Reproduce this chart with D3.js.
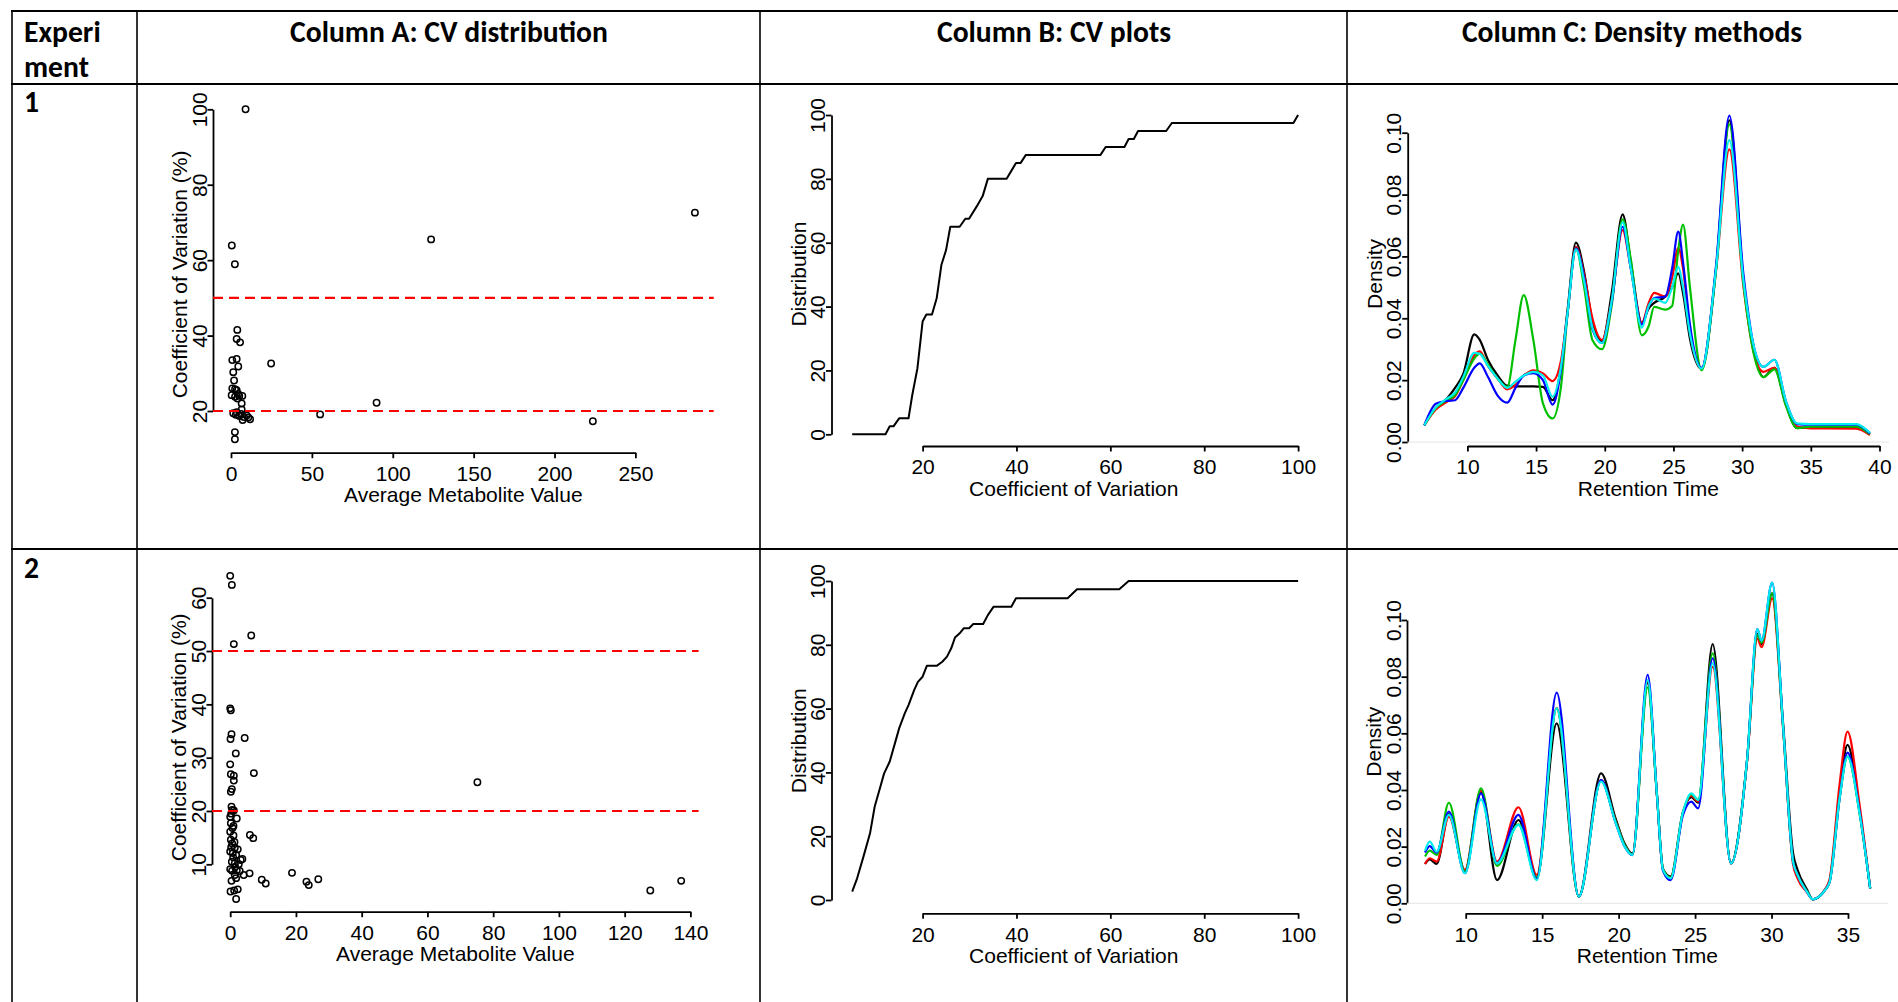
<!DOCTYPE html>
<html>
<head>
<meta charset="utf-8">
<script src="https://cdn.jsdelivr.net/npm/d3@7"></script>
<style>
  body { margin: 0; background: #fff; }
  svg { display: block; }
</style>
</head>
<body>
<div id="chart"></div>
<script>
// table text
const headers = ['Column A: CV distribution', 'Column B: CV plots', 'Column C: Density methods'];
const rowHeader = ['Experi', 'ment'];
const experiments = ['1', '2'];

// column A: average metabolite value vs CV (%)
const a1Mean = [9.0, 286.8, 123.7, 0.5, 2.4, 3.9, 3.5, 5.6, 0.8, 3.5, 24.8, 4.5, 1.4, 1.9, 0.8, 2.5, 3.5, 0.4, 2.5, 5.1,
    7.0, 4.0, 6.6, 6.6, 1.4, 3.5, 5.1, 7.2, 8.0, 10.7, 11.8, 9.7, 2.4, 2.4, 55.1, 90.0, 223.7, 3.0, 6.2, 4.5];
const a1Cv = [100, 72.6, 65.5, 63.9, 58.9, 41.5, 39.1, 38.2, 33.5, 33.8, 32.6, 31.8, 30.3, 28.1, 26.0, 25.8, 25.5, 24.2, 23.8, 24.0,
    24.0, 23.3, 22.0, 20.4, 19.4, 19.7, 18.7, 17.6, 18.4, 18.3, 17.8, 18.8, 14.4, 12.5, 19.1, 22.2, 17.3, 19.0, 19.2, 24.5];
const a2Mean = [0, 0.5, 1.1, 6.4, 0, 0.2, 0.4, 0.1, 4.4, 1.7, 0, 7.2, 0.2, 1.1, 1.1, 0.5, 0.2, 0.4, 0.6, 1.1,
    0, 2.0, 0.2, 1.0, 0, 1.0, 6.0, 7.0, 0.2, 0.6, 1.4, 2.3, 0, 0.8, 1.8, 3.2, 3.7, 0.5, 1.4, 0,
    0.6, 2.0, 2.9, 4.1, 5.9, 1.4, 0.4, 1.8, 18.8, 9.6, 10.8, 23.2, 23.9, 26.8, 0.1, 1.2, 2.3, 1.8, 75.2, 127.8,
    137.2, 0.3, 0.7, 1.5, 0.9, 2.6, 0.3, 1.3];
const a2Cv = [64.1, 62.4, 51.3, 52.9, 39.25, 38.9, 34.4, 33.5, 33.7, 30.8, 28.75, 27.1, 26.9, 26.6, 25.7, 24.1, 23.6, 20.8, 20.2, 20.1,
    18.9, 18.6, 17.7, 17.2, 16.1, 15.4, 15.5, 14.9, 14.6, 13.9, 13.1, 12.8, 12.4, 12.1, 11.75, 10.8, 11.0, 10.5, 10.2, 9.1,
    8.8, 8.9, 8.75, 8.0, 8.3, 8.0, 6.9, 7.4, 8.4, 7.1, 6.4, 6.75, 6.1, 7.2, 4.9, 5.1, 5.3, 3.5, 25.4, 5.1,
    6.9, 19.5, 16.8, 9.5, 11.3, 10.0, 13.2, 14.2];
const cvCutoffs = [20, 50];

// column B: cumulative distribution of CV
const b1Cv = [5.0, 12.1, 13.0, 13.8, 15.0, 17.0, 17.8, 18.9, 20.0, 20.8, 22.0, 23.0, 24.0, 25.0, 25.9, 27.9, 29.1, 29.9,
    31.5, 32.8, 33.9, 37.9, 38.9, 39.9, 40.9, 42.0, 57.9, 59.0, 63.0, 63.9, 65.0, 65.9, 71.9, 73.1, 99.0, 100];
const b1Dist = [0, 0, 2.5, 2.5, 5, 5, 12.3, 20.7, 35.3, 37.5, 37.5, 42.6, 53.0, 57.7, 65, 65, 67.5, 67.5,
    71.3, 74.6, 80, 80, 82.5, 85, 85, 87.5, 87.5, 90, 90, 92.5, 92.5, 95, 95, 97.5, 97.5, 100];
const b2Cv = [5.0, 6.05, 7.4, 8.8, 9.8, 11.0, 11.8, 13.0, 14.1, 15.0, 16.2, 17.0, 18.2, 19.0, 20.0, 20.9, 23.0, 24.2,
    25.2, 26.1, 26.9, 27.9, 28.8, 29.9, 30.8, 32.9, 33.9, 35.1, 38.9, 39.9, 50.9, 52.9, 61.9, 63.9, 100];
const b2Dist = [2.6, 6.8, 13.6, 20.9, 29.3, 35.5, 39.7, 43.4, 49.1, 53.8, 58.5, 61.1, 65.8, 68.4, 70.0, 73.4, 73.4, 74.7,
    76.3, 78.9, 82.3, 83.6, 85.2, 85.2, 86.5, 86.5, 89.3, 91.9, 91.9, 94.6, 94.6, 97.4, 97.4, 100, 100];

// column C: density of retention time, five methods
const c1Time = [6.86, 7.7, 8.5, 9.1, 9.7, 10.5, 10.9, 11.5, 12.2, 12.9, 13.5, 14.1, 14.8, 15.5, 16.2, 16.8, 17.3, 17.9,
    18.5, 19.1, 19.8, 20.5, 21.3, 21.9, 22.7, 23.2, 23.6, 24.4, 24.9, 25.35, 25.7, 26.2, 27.05, 28.1, 29.07, 30.1,
    30.9, 31.55, 32.35, 33.2, 34.0, 35.0, 38.3, 39.3];
const c1Black = [.0054, .0110, .0140, .0175, .0220, .0348, .0330, .0265, .0215, .0182, .0180, .0180, .0180, .0178, .0135, .0240, .0430, .0645,
    .0550, .0388, .0325, .0480, .0736, .0580, .0385, .0432, .0450, .0470, .0500, .0545, .0480, .0334, .0237, .0560, .1040, .0520,
    .0285, .0210, .0240, .0120, .0045, .0048, .0049, .0025];
const c1Red = [.0054, .0105, .0130, .0148, .0200, .0280, .0293, .0245, .0205, .0170, .0185, .0215, .0232, .0222, .0197, .0260, .0420, .0631,
    .0540, .0400, .0330, .0455, .0685, .0560, .0385, .0450, .0482, .0470, .0530, .0628, .0560, .0360, .0237, .0555, .0946, .0500,
    .0280, .0227, .0240, .0120, .0050, .0044, .0043, .0022];
const c1Green = [.0054, .0110, .0135, .0152, .0200, .0270, .0286, .0250, .0205, .0178, .0330, .0475, .0330, .0125, .0076, .0175, .0420, .0626,
    .0500, .0330, .0300, .0440, .0720, .0590, .0345, .0375, .0437, .0428, .0440, .0620, .0703, .0500, .0232, .0555, .1027, .0510,
    .0275, .0210, .0235, .0115, .0045, .0050, .0050, .0025];
const c1Blue = [.0054, .0124, .0133, .0135, .0175, .0240, .0254, .0210, .0150, .0127, .0175, .0215, .0223, .0200, .0121, .0230, .0420, .0626,
    .0530, .0365, .0320, .0450, .0696, .0560, .0380, .0440, .0465, .0470, .0560, .0680, .0580, .0380, .0240, .0570, .1055, .0540,
    .0300, .0243, .0266, .0130, .0058, .0056, .0056, .0028];
const c1Cyan = [.0054, .0112, .0140, .0160, .0210, .0288, .0285, .0245, .0205, .0175, .0195, .0215, .0227, .0215, .0146, .0240, .0420, .0623,
    .0520, .0370, .0320, .0455, .0710, .0560, .0370, .0440, .0464, .0450, .0500, .0566, .0500, .0350, .0237, .0560, .0976, .0520,
    .0300, .0243, .0266, .0130, .0060, .0058, .0058, .0030];

const c2Time = [7.34, 7.65, 8.1, 8.9, 9.95, 11.0, 12.05, 13.45, 14.65, 15.95, 17.4, 18.85, 19.8, 20.4, 20.9, 21.9, 22.5, 22.9,
    23.4, 24.2, 24.75, 25.2, 26.15, 27.35, 28.4, 29.07, 29.35, 30.04, 30.75, 31.4, 31.7, 32.3, 32.7, 33.5, 33.8, 34.45,
    34.97, 35.75, 36.45];
const c2Black = [.0139, .0155, .0139, .0315, .0112, .0394, .0082, .0294, .0090, .0635, .0024, .0459, .0300, .0210, .0175, .0778, .0390, .0122,
    .0094, .0320, .0375, .0355, .0915, .0141, .0506, .0950, .0915, .1094, .0640, .0180, .0118, .0050, .0014, .0047, .0080, .0388,
    .0559, .0330, .0053];
const c2Red = [.0139, .0159, .0147, .0306, .0118, .0398, .0147, .0339, .0100, .0690, .0024, .0435, .0290, .0205, .0172, .0785, .0385, .0118,
    .0090, .0318, .0380, .0360, .0835, .0141, .0500, .0935, .0904, .1076, .0620, .0140, .0088, .0040, .0014, .0050, .0085, .0420,
    .0606, .0350, .0053];
const c2Green = [.0165, .0186, .0171, .0355, .0112, .0406, .0132, .0279, .0090, .0688, .0024, .0433, .0290, .0205, .0172, .0762, .0385, .0120,
    .0090, .0320, .0385, .0365, .0882, .0141, .0506, .0947, .0920, .1094, .0624, .0150, .0100, .0045, .0014, .0047, .0075, .0370,
    .0518, .0320, .0053];
const c2Blue = [.0179, .0202, .0179, .0324, .0106, .0388, .0141, .0312, .0085, .0744, .0024, .0435, .0285, .0200, .0170, .0806, .0388, .0115,
    .0082, .0310, .0359, .0335, .0865, .0141, .0506, .0968, .0927, .1132, .0630, .0150, .0100, .0042, .0014, .0047, .0075, .0370,
    .0532, .0325, .0053];
const c2Cyan = [.0186, .0218, .0182, .0312, .0106, .0367, .0141, .0277, .0082, .0688, .0024, .0430, .0285, .0200, .0171, .0788, .0388, .0118,
    .0088, .0320, .0388, .0365, .0847, .0141, .0506, .0968, .0927, .1132, .0630, .0150, .0100, .0042, .0014, .0047, .0075, .0370,
    .0518, .0320, .0053];
const methodColors = ['#000000', '#ff0000', '#00c000', '#0000ff', '#00eeee'];

// tick values
const a1XTicks = [0, 50, 100, 150, 200, 250];
const a1YTicks = [20, 40, 60, 80, 100];
const a2XTicks = [0, 20, 40, 60, 80, 100, 120, 140];
const a2YTicks = [10, 20, 30, 40, 50, 60];
const bXTicks = [20, 40, 60, 80, 100];
const bYTicks = [0, 20, 40, 60, 80, 100];
const c1XTicks = [10, 15, 20, 25, 30, 35, 40];
const c2XTicks = [10, 15, 20, 25, 30, 35];
const cYTicks = [0, 0.02, 0.04, 0.06, 0.08, 0.10];

(function () {

    const W = 1898, H = 1002;
    const rFont = "'Liberation Sans', Arial, sans-serif";
    const hFont = "Carlito, Lato, 'Open Sans', sans-serif";

    const svg = d3.select('#chart')
        .append('svg')
        .attr('width', W)
        .attr('height', H);

    svg.append('rect').attr('width', W).attr('height', H).attr('fill', '#fff');

    // ---- table grid ----
    const grid = svg.append('g').attr('stroke', '#000');
    [11, 84, 549].forEach(y => grid.append('line')
        .attr('x1', 11).attr('x2', W).attr('y1', y).attr('y2', y)
        .attr('stroke-width', 2.2));
    [12, 137, 760, 1347].forEach(x => grid.append('line')
        .attr('x1', x).attr('x2', x).attr('y1', 10).attr('y2', H)
        .attr('stroke-width', 1.6));

    // header font size fitted to the width of the first header
    const probe = svg.append('text')
        .attr('font-family', hFont).attr('font-weight', 700).attr('font-size', 30)
        .text(headers[0]);
    const hSize = 30 * 318 / probe.node().getComputedTextLength();
    probe.remove();

    const head = svg.append('g')
        .attr('font-family', hFont)
        .attr('font-weight', 700)
        .attr('font-size', hSize)
        .attr('fill', '#000');

    const colCenters = [449, 1054, 1632];
    head.selectAll('text.col')
        .data(headers)
        .enter()
        .append('text')
        .attr('class', 'col')
        .attr('x', (d, i) => colCenters[i])
        .attr('y', 42)
        .attr('text-anchor', 'middle')
        .text(d => d);

    head.selectAll('text.rowh')
        .data(rowHeader)
        .enter()
        .append('text')
        .attr('class', 'rowh')
        .attr('x', 24)
        .attr('y', (d, i) => 42 + i * 34.5)
        .text(d => d);

    head.selectAll('text.exp')
        .data(experiments)
        .enter()
        .append('text')
        .attr('class', 'exp')
        .attr('x', 24)
        .attr('y', (d, i) => [111.5, 577.5][i])
        .text(d => d);

    // ---- one R-style plot (axes only cover first..last tick) ----
    function panel(o) {
        const g = svg.append('g')
            .attr('font-family', rFont)
            .attr('font-size', 21);

        const x = d3.scaleLinear().domain(d3.extent(o.xTicks)).range(o.xPx);
        const y = d3.scaleLinear().domain(d3.extent(o.yTicks)).range(o.yPx);

        const xa = g.append('g')
            .attr('transform', `translate(0,${o.xAxisY})`)
            .call(d3.axisBottom(x)
                .tickValues(o.xTicks)
                .tickSize(5.5)
                .tickSizeOuter(0)
                .tickPadding(8)
                .tickFormat(o.xFmt || d3.format('d')));

        const ya = g.append('g')
            .attr('transform', `translate(${o.yAxisX},0)`)
            .call(d3.axisLeft(y)
                .tickValues(o.yTicks)
                .tickSize(5.5)
                .tickSizeOuter(0)
                .tickFormat(o.yFmt || d3.format('d')));

        [xa, ya].forEach(a => {
            a.attr('font-family', rFont).attr('font-size', 21);
            a.selectAll('path, line').attr('stroke', '#000').attr('stroke-width', 1.8);
            a.selectAll('text').attr('fill', '#000');
        });

        // y labels run along the axis, as in R
        ya.selectAll('text')
            .attr('x', 0)
            .attr('dy', null)
            .attr('text-anchor', 'middle')
            .attr('transform', 'translate(-6.5,0) rotate(-90)');

        g.append('text')
            .attr('x', (o.yAxisX + o.plotRight) / 2)
            .attr('y', o.xAxisY + 49.5)
            .attr('text-anchor', 'middle')
            .text(o.xTitle);

        g.append('text')
            .attr('transform', `translate(${o.yAxisX - 26},${(o.plotTop + o.xAxisY) / 2}) rotate(-90)`)
            .attr('text-anchor', 'middle')
            .text(o.yTitle);

        return { g, x, y };
    }

    // ---- column A ----
    function scatter(o, mean, cv) {
        const p = panel(o);
        p.g.append('g')
            .selectAll('circle')
            .data(mean)
            .enter()
            .append('circle')
            .attr('cx', d => p.x(d))
            .attr('cy', (d, i) => p.y(cv[i]))
            .attr('r', 3.2)
            .attr('fill', 'none')
            .attr('stroke', '#000')
            .attr('stroke-width', 1.5);

        p.g.append('g')
            .selectAll('line')
            .data(cvCutoffs)
            .enter()
            .append('line')
            .attr('x1', o.yAxisX)
            .attr('x2', o.plotRight)
            .attr('y1', d => p.y(d))
            .attr('y2', d => p.y(d))
            .attr('stroke', '#ff0000')
            .attr('stroke-width', 2.2)
            .attr('stroke-dasharray', '10,6');
    }

    const aTitles = { xTitle: 'Average Metabolite Value', yTitle: 'Coefficient of Variation (%)' };

    scatter(Object.assign({
        xTicks: a1XTicks, xPx: [231, 635.4],
        yTicks: a1YTicks, yPx: [411, 109.3],
        xAxisY: 452.7, yAxisX: 213, plotRight: 713.7, plotTop: 96.1
    }, aTitles), a1Mean, a1Cv);

    scatter(Object.assign({
        xTicks: a2XTicks, xPx: [230.2, 690.4],
        yTicks: a2YTicks, yPx: [864.3, 597.7],
        xAxisY: 911.7, yAxisX: 212, plotRight: 698.6, plotTop: 563
    }, aTitles), a2Mean, a2Cv);

    // ---- column B ----
    function cdf(o, cv, dist) {
        const p = panel(o);
        const line = d3.line()
            .x(d => p.x(d))
            .y((d, i) => p.y(dist[i]));
        p.g.append('path')
            .datum(cv)
            .attr('d', line)
            .attr('fill', 'none')
            .attr('stroke', '#000')
            .attr('stroke-width', 2)
            .attr('stroke-linejoin', 'round');
    }

    const bTitles = { xTitle: 'Coefficient of Variation', yTitle: 'Distribution' };

    cdf(Object.assign({
        xTicks: bXTicks, xPx: [922.6, 1298.1],
        yTicks: bYTicks, yPx: [434.3, 115],
        xAxisY: 446, yAxisX: 831.5, plotRight: 1316, plotTop: 102.2
    }, bTitles), b1Cv, b1Dist);

    cdf(Object.assign({
        xTicks: bXTicks, xPx: [922.6, 1298.1],
        yTicks: bYTicks, yPx: [900, 581],
        xAxisY: 913.3, yAxisX: 831.5, plotRight: 1316, plotTop: 568.2
    }, bTitles), b2Cv, b2Dist);

    // ---- column C ----
    function density(o, time, series) {
        const p = panel(o);
        p.g.append('line')
            .attr('x1', o.yAxisX).attr('x2', o.plotRight)
            .attr('y1', p.y(0)).attr('y2', p.y(0))
            .attr('stroke', '#e4e4e4')
            .attr('stroke-width', 1);

        const line = d3.line()
            .x((d, i) => p.x(time[i]))
            .y(d => p.y(d))
            .curve(d3.curveMonotoneX);

        p.g.append('g')
            .selectAll('path')
            .data(series)
            .enter()
            .append('path')
            .attr('d', line)
            .attr('fill', 'none')
            .attr('stroke', (d, i) => methodColors[i])
            .attr('stroke-width', 2.2)
            .attr('stroke-linejoin', 'round');
    }

    const cOpts = { xTitle: 'Retention Time', yTitle: 'Density', yFmt: d3.format('.2f') };

    density(Object.assign({
        xTicks: c1XTicks, xPx: [1467.4, 1879.5],
        yTicks: cYTicks, yPx: [442.0, 132.7],
        xAxisY: 446, yAxisX: 1407.7, plotRight: 1889, plotTop: 101.8
    }, cOpts), c1Time, [c1Black, c1Red, c1Green, c1Blue, c1Cyan]);

    density(Object.assign({
        xTicks: c2XTicks, xPx: [1465.7, 1848],
        yTicks: cYTicks, yPx: [903.3, 620],
        xAxisY: 913.3, yAxisX: 1407, plotRight: 1887.7, plotTop: 570
    }, cOpts), c2Time, [c2Black, c2Red, c2Green, c2Blue, c2Cyan]);

})();
</script>
</body>
</html>
